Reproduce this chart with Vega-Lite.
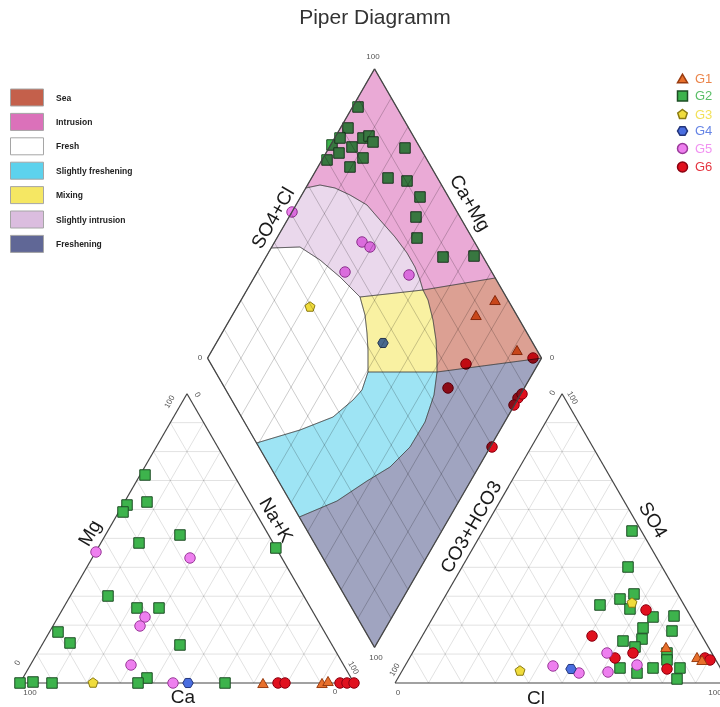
{
  "$schema": "https://vega.github.io/schema/vega-lite/v6.json",
  "width": 720,
  "height": 707,
  "padding": 0,
  "autosize": {"type": "none"},
  "background": "white",
  "config": {"view": {"stroke": null}, "font": "Liberation Sans"},
  "datasets": {
    "lines": [
      {"p":"t","k":"g","x":5,"y":8.660,"x2":95,"y2":8.660},
      {"p":"t","k":"g","x":10,"y":17.321,"x2":90,"y2":17.321},
      {"p":"t","k":"g","x":15,"y":25.981,"x2":85,"y2":25.981},
      {"p":"t","k":"g","x":20,"y":34.641,"x2":80,"y2":34.641},
      {"p":"t","k":"g","x":25,"y":43.301,"x2":75,"y2":43.301},
      {"p":"t","k":"g","x":30,"y":51.962,"x2":70,"y2":51.962},
      {"p":"t","k":"g","x":35,"y":60.622,"x2":65,"y2":60.622},
      {"p":"t","k":"g","x":40,"y":69.282,"x2":60,"y2":69.282},
      {"p":"t","k":"g","x":45,"y":77.942,"x2":55,"y2":77.942},
      {"p":"t","k":"g","x":10,"y":0,"x2":55,"y2":77.942},
      {"p":"t","k":"g","x":20,"y":0,"x2":60,"y2":69.282},
      {"p":"t","k":"g","x":30,"y":0,"x2":65,"y2":60.622},
      {"p":"t","k":"g","x":40,"y":0,"x2":70,"y2":51.962},
      {"p":"t","k":"g","x":50,"y":0,"x2":75,"y2":43.301},
      {"p":"t","k":"g","x":60,"y":0,"x2":80,"y2":34.641},
      {"p":"t","k":"g","x":70,"y":0,"x2":85,"y2":25.981},
      {"p":"t","k":"g","x":80,"y":0,"x2":90,"y2":17.321},
      {"p":"t","k":"g","x":90,"y":0,"x2":95,"y2":8.660},
      {"p":"t","k":"g","x":10,"y":0,"x2":5,"y2":8.660},
      {"p":"t","k":"g","x":20,"y":0,"x2":10,"y2":17.321},
      {"p":"t","k":"g","x":30,"y":0,"x2":15,"y2":25.981},
      {"p":"t","k":"g","x":40,"y":0,"x2":20,"y2":34.641},
      {"p":"t","k":"g","x":50,"y":0,"x2":25,"y2":43.301},
      {"p":"t","k":"g","x":60,"y":0,"x2":30,"y2":51.962},
      {"p":"t","k":"g","x":70,"y":0,"x2":35,"y2":60.622},
      {"p":"t","k":"g","x":80,"y":0,"x2":40,"y2":69.282},
      {"p":"t","k":"g","x":90,"y":0,"x2":45,"y2":77.942},
      {"p":"t","k":"g","x":117.3,"y":8.660,"x2":207.3,"y2":8.660},
      {"p":"t","k":"g","x":122.3,"y":17.321,"x2":202.3,"y2":17.321},
      {"p":"t","k":"g","x":127.3,"y":25.981,"x2":197.3,"y2":25.981},
      {"p":"t","k":"g","x":132.3,"y":34.641,"x2":192.3,"y2":34.641},
      {"p":"t","k":"g","x":137.3,"y":43.301,"x2":187.3,"y2":43.301},
      {"p":"t","k":"g","x":142.3,"y":51.962,"x2":182.3,"y2":51.962},
      {"p":"t","k":"g","x":147.3,"y":60.622,"x2":177.3,"y2":60.622},
      {"p":"t","k":"g","x":152.3,"y":69.282,"x2":172.3,"y2":69.282},
      {"p":"t","k":"g","x":157.3,"y":77.942,"x2":167.3,"y2":77.942},
      {"p":"t","k":"g","x":122.3,"y":0,"x2":167.3,"y2":77.942},
      {"p":"t","k":"g","x":132.3,"y":0,"x2":172.3,"y2":69.282},
      {"p":"t","k":"g","x":142.3,"y":0,"x2":177.3,"y2":60.622},
      {"p":"t","k":"g","x":152.3,"y":0,"x2":182.3,"y2":51.962},
      {"p":"t","k":"g","x":162.3,"y":0,"x2":187.3,"y2":43.301},
      {"p":"t","k":"g","x":172.3,"y":0,"x2":192.3,"y2":34.641},
      {"p":"t","k":"g","x":182.3,"y":0,"x2":197.3,"y2":25.981},
      {"p":"t","k":"g","x":192.3,"y":0,"x2":202.3,"y2":17.321},
      {"p":"t","k":"g","x":202.3,"y":0,"x2":207.3,"y2":8.660},
      {"p":"t","k":"g","x":122.3,"y":0,"x2":117.3,"y2":8.660},
      {"p":"t","k":"g","x":132.3,"y":0,"x2":122.3,"y2":17.321},
      {"p":"t","k":"g","x":142.3,"y":0,"x2":127.3,"y2":25.981},
      {"p":"t","k":"g","x":152.3,"y":0,"x2":132.3,"y2":34.641},
      {"p":"t","k":"g","x":162.3,"y":0,"x2":137.3,"y2":43.301},
      {"p":"t","k":"g","x":172.3,"y":0,"x2":142.3,"y2":51.962},
      {"p":"t","k":"g","x":182.3,"y":0,"x2":147.3,"y2":60.622},
      {"p":"t","k":"g","x":192.3,"y":0,"x2":152.3,"y2":69.282},
      {"p":"t","k":"g","x":202.3,"y":0,"x2":157.3,"y2":77.942},
      {"p":"d","k":"g","x":61.15,"y":88.595,"x2":111.15,"y2":175.198},
      {"p":"d","k":"g","x":66.15,"y":79.934,"x2":116.15,"y2":166.537},
      {"p":"d","k":"g","x":71.15,"y":71.274,"x2":121.15,"y2":157.877},
      {"p":"d","k":"g","x":76.15,"y":62.614,"x2":126.15,"y2":149.217},
      {"p":"d","k":"g","x":81.15,"y":53.953,"x2":131.15,"y2":140.556},
      {"p":"d","k":"g","x":86.15,"y":45.293,"x2":136.15,"y2":131.896},
      {"p":"d","k":"g","x":91.15,"y":36.633,"x2":141.15,"y2":123.236},
      {"p":"d","k":"g","x":96.15,"y":27.973,"x2":146.15,"y2":114.576},
      {"p":"d","k":"g","x":101.15,"y":19.312,"x2":151.15,"y2":105.915},
      {"p":"d","k":"g","x":61.15,"y":105.915,"x2":111.15,"y2":19.312},
      {"p":"d","k":"g","x":66.15,"y":114.576,"x2":116.15,"y2":27.973},
      {"p":"d","k":"g","x":71.15,"y":123.236,"x2":121.15,"y2":36.633},
      {"p":"d","k":"g","x":76.15,"y":131.896,"x2":126.15,"y2":45.293},
      {"p":"d","k":"g","x":81.15,"y":140.556,"x2":131.15,"y2":53.953},
      {"p":"d","k":"g","x":86.15,"y":149.217,"x2":136.15,"y2":62.614},
      {"p":"d","k":"g","x":91.15,"y":157.877,"x2":141.15,"y2":71.274},
      {"p":"d","k":"g","x":96.15,"y":166.537,"x2":146.15,"y2":79.934},
      {"p":"d","k":"g","x":101.15,"y":175.198,"x2":151.15,"y2":88.595},
      {"p":"t","k":"e","x":0,"y":0,"x2":100,"y2":0},
      {"p":"t","k":"e","x":0,"y":0,"x2":50,"y2":86.603},
      {"p":"t","k":"e","x":100,"y":0,"x2":50,"y2":86.603},
      {"p":"t","k":"e","x":112.3,"y":0,"x2":212.3,"y2":0},
      {"p":"t","k":"e","x":112.3,"y":0,"x2":162.3,"y2":86.603},
      {"p":"t","k":"e","x":212.3,"y":0,"x2":162.3,"y2":86.603},
      {"p":"d","k":"e","x":56.15,"y":97.255,"x2":106.15,"y2":183.858},
      {"p":"d","k":"e","x":106.15,"y":183.858,"x2":156.15,"y2":97.255},
      {"p":"d","k":"e","x":156.15,"y":97.255,"x2":106.15,"y2":10.652},
      {"p":"d","k":"e","x":106.15,"y":10.652,"x2":56.15,"y2":97.255}
    ],
    "zones": [
      {"zone":"Intrusion","i":0,"x":106.15,"y":183.858},
      {"zone":"Intrusion","i":1,"x":142.29,"y":121.26},
      {"zone":"Intrusion","i":2,"x":120.66,"y":117.66},
      {"zone":"Intrusion","i":3,"x":119.76,"y":120.66},
      {"zone":"Intrusion","i":4,"x":118.26,"y":124.55},
      {"zone":"Intrusion","i":5,"x":115.87,"y":128.74},
      {"zone":"Intrusion","i":6,"x":112.28,"y":133.53},
      {"zone":"Intrusion","i":7,"x":107.78,"y":138.62},
      {"zone":"Intrusion","i":8,"x":103.89,"y":143.11},
      {"zone":"Intrusion","i":9,"x":98.80,"y":146.11},
      {"zone":"Intrusion","i":10,"x":94.31,"y":148.20},
      {"zone":"Intrusion","i":11,"x":89.82,"y":149.10},
      {"zone":"Intrusion","i":12,"x":85.56,"y":148.20},
      {"zone":"Intrusion","i":13,"x":106.15,"y":183.858},
      {"zone":"Slightly intrusion","i":0,"x":85.56,"y":148.20},
      {"zone":"Slightly intrusion","i":1,"x":89.82,"y":149.10},
      {"zone":"Slightly intrusion","i":2,"x":94.31,"y":148.20},
      {"zone":"Slightly intrusion","i":3,"x":98.80,"y":146.11},
      {"zone":"Slightly intrusion","i":4,"x":103.89,"y":143.11},
      {"zone":"Slightly intrusion","i":5,"x":107.78,"y":138.62},
      {"zone":"Slightly intrusion","i":6,"x":112.28,"y":133.53},
      {"zone":"Slightly intrusion","i":7,"x":115.87,"y":128.74},
      {"zone":"Slightly intrusion","i":8,"x":118.26,"y":124.55},
      {"zone":"Slightly intrusion","i":9,"x":119.76,"y":120.66},
      {"zone":"Slightly intrusion","i":10,"x":120.66,"y":117.66},
      {"zone":"Slightly intrusion","i":11,"x":101.80,"y":115.57},
      {"zone":"Slightly intrusion","i":12,"x":95.81,"y":121.56},
      {"zone":"Slightly intrusion","i":13,"x":89.82,"y":126.65},
      {"zone":"Slightly intrusion","i":14,"x":83.83,"y":130.54},
      {"zone":"Slightly intrusion","i":15,"x":75.19,"y":130.24},
      {"zone":"Slightly intrusion","i":16,"x":85.56,"y":148.20},
      {"zone":"Fresh","i":0,"x":56.15,"y":97.255},
      {"zone":"Fresh","i":1,"x":75.19,"y":130.24},
      {"zone":"Fresh","i":2,"x":83.83,"y":130.54},
      {"zone":"Fresh","i":3,"x":89.82,"y":126.65},
      {"zone":"Fresh","i":4,"x":95.81,"y":121.56},
      {"zone":"Fresh","i":5,"x":101.80,"y":115.57},
      {"zone":"Fresh","i":6,"x":103.29,"y":110.18},
      {"zone":"Fresh","i":7,"x":103.89,"y":104.79},
      {"zone":"Fresh","i":8,"x":104.19,"y":99.70},
      {"zone":"Fresh","i":9,"x":104.19,"y":93.11},
      {"zone":"Fresh","i":10,"x":102.40,"y":87.72},
      {"zone":"Fresh","i":11,"x":99.70,"y":84.73},
      {"zone":"Fresh","i":12,"x":93.71,"y":79.64},
      {"zone":"Fresh","i":13,"x":83.83,"y":75.75},
      {"zone":"Fresh","i":14,"x":70.81,"y":71.86},
      {"zone":"Fresh","i":15,"x":56.15,"y":97.255},
      {"zone":"Mixing","i":0,"x":101.80,"y":115.57},
      {"zone":"Mixing","i":1,"x":120.66,"y":117.66},
      {"zone":"Mixing","i":2,"x":122.16,"y":114.67},
      {"zone":"Mixing","i":3,"x":123.65,"y":108.68},
      {"zone":"Mixing","i":4,"x":124.55,"y":102.69},
      {"zone":"Mixing","i":5,"x":124.85,"y":96.71},
      {"zone":"Mixing","i":6,"x":124.85,"y":93.11},
      {"zone":"Mixing","i":7,"x":104.19,"y":93.11},
      {"zone":"Mixing","i":8,"x":104.19,"y":99.70},
      {"zone":"Mixing","i":9,"x":103.89,"y":104.79},
      {"zone":"Mixing","i":10,"x":103.29,"y":110.18},
      {"zone":"Mixing","i":11,"x":101.80,"y":115.57},
      {"zone":"Sea","i":0,"x":120.66,"y":117.66},
      {"zone":"Sea","i":1,"x":142.29,"y":121.26},
      {"zone":"Sea","i":2,"x":156.15,"y":97.255},
      {"zone":"Sea","i":3,"x":124.85,"y":93.11},
      {"zone":"Sea","i":4,"x":124.85,"y":96.71},
      {"zone":"Sea","i":5,"x":124.55,"y":102.69},
      {"zone":"Sea","i":6,"x":123.65,"y":108.68},
      {"zone":"Sea","i":7,"x":122.16,"y":114.67},
      {"zone":"Sea","i":8,"x":120.66,"y":117.66},
      {"zone":"Slightly freshening","i":0,"x":70.81,"y":71.86},
      {"zone":"Slightly freshening","i":1,"x":83.83,"y":75.75},
      {"zone":"Slightly freshening","i":2,"x":93.71,"y":79.64},
      {"zone":"Slightly freshening","i":3,"x":99.70,"y":84.73},
      {"zone":"Slightly freshening","i":4,"x":102.40,"y":87.72},
      {"zone":"Slightly freshening","i":5,"x":104.19,"y":93.11},
      {"zone":"Slightly freshening","i":6,"x":124.85,"y":93.11},
      {"zone":"Slightly freshening","i":7,"x":123.95,"y":86.23},
      {"zone":"Slightly freshening","i":8,"x":121.26,"y":78.14},
      {"zone":"Slightly freshening","i":9,"x":116.77,"y":70.66},
      {"zone":"Slightly freshening","i":10,"x":110.78,"y":64.67},
      {"zone":"Slightly freshening","i":11,"x":103.89,"y":60.48},
      {"zone":"Slightly freshening","i":12,"x":94.91,"y":54.49},
      {"zone":"Slightly freshening","i":13,"x":83.61,"y":49.70},
      {"zone":"Slightly freshening","i":14,"x":70.81,"y":71.86},
      {"zone":"Freshening","i":0,"x":83.61,"y":49.70},
      {"zone":"Freshening","i":1,"x":94.91,"y":54.49},
      {"zone":"Freshening","i":2,"x":103.89,"y":60.48},
      {"zone":"Freshening","i":3,"x":110.78,"y":64.67},
      {"zone":"Freshening","i":4,"x":116.77,"y":70.66},
      {"zone":"Freshening","i":5,"x":121.26,"y":78.14},
      {"zone":"Freshening","i":6,"x":123.95,"y":86.23},
      {"zone":"Freshening","i":7,"x":124.85,"y":93.11},
      {"zone":"Freshening","i":8,"x":156.15,"y":97.255},
      {"zone":"Freshening","i":9,"x":106.15,"y":10.652},
      {"zone":"Freshening","i":10,"x":83.61,"y":49.70}
    ],
    "samples": [
      {"g":"G2","x":37.43,"y":62.28},{"g":"G2","x":38.02,"y":54.19},{"g":"G2","x":32.04,"y":53.29},
      {"g":"G2","x":30.84,"y":51.20},{"g":"G2","x":47.90,"y":44.31},{"g":"G2","x":35.63,"y":41.92},
      {"g":"G2","x":76.6,"y":40.42},{"g":"G2","x":26.35,"y":26.05},{"g":"G2","x":35.03,"y":22.46},
      {"g":"G2","x":41.62,"y":22.46},{"g":"G2","x":11.38,"y":15.27},{"g":"G2","x":14.97,"y":11.98},
      {"g":"G2","x":47.90,"y":11.38},{"g":"G2","x":38.02,"y":1.50},{"g":"G2","x":0,"y":0},
      {"g":"G2","x":3.89,"y":0.30},{"g":"G2","x":9.58,"y":0},{"g":"G2","x":35.33,"y":0},{"g":"G2","x":61.38,"y":0},
      {"g":"G5","x":22.75,"y":39.22},{"g":"G5","x":50.90,"y":37.43},{"g":"G5","x":37.43,"y":19.76},
      {"g":"G5","x":35.93,"y":17.07},{"g":"G5","x":33.23,"y":5.39},{"g":"G5","x":45.81,"y":0},
      {"g":"G4","x":50.30,"y":0},
      {"g":"G3","x":21.86,"y":0},
      {"g":"G1","x":72.75,"y":0},{"g":"G1","x":90.42,"y":0},{"g":"G1","x":92.22,"y":0.6},
      {"g":"G6","x":77.25,"y":0},{"g":"G6","x":79.34,"y":0},{"g":"G6","x":95.81,"y":0},{"g":"G6","x":97.90,"y":0},{"g":"G6","x":100,"y":0},
      {"g":"G2","x":183.23,"y":45.51},{"g":"G2","x":182.04,"y":34.73},{"g":"G2","x":183.83,"y":26.65},
      {"g":"G2","x":179.64,"y":25.15},{"g":"G2","x":173.65,"y":23.35},{"g":"G2","x":182.63,"y":22.16},
      {"g":"G2","x":189.52,"y":19.76},{"g":"G2","x":195.81,"y":20.06},{"g":"G2","x":186.53,"y":16.47},
      {"g":"G2","x":195.21,"y":15.57},{"g":"G2","x":180.54,"y":12.57},{"g":"G2","x":186.23,"y":13.17},
      {"g":"G2","x":184.13,"y":10.78},{"g":"G2","x":193.71,"y":8.98},{"g":"G2","x":193.71,"y":6.89},
      {"g":"G2","x":179.64,"y":4.49},{"g":"G2","x":184.73,"y":2.99},{"g":"G2","x":189.52,"y":4.49},
      {"g":"G2","x":197.60,"y":4.49},{"g":"G2","x":196.71,"y":1.20},
      {"g":"G3","x":183.23,"y":23.95},{"g":"G3","x":149.70,"y":3.59},
      {"g":"G6","x":187.43,"y":21.86},{"g":"G6","x":171.26,"y":14.07},{"g":"G6","x":183.53,"y":8.98},
      {"g":"G6","x":178.14,"y":7.49},{"g":"G6","x":193.71,"y":4.19},{"g":"G6","x":205.09,"y":7.49},{"g":"G6","x":206.59,"y":6.89},
      {"g":"G5","x":175.75,"y":8.98},{"g":"G5","x":159.58,"y":5.09},{"g":"G5","x":167.37,"y":2.99},
      {"g":"G5","x":176.05,"y":3.29},{"g":"G5","x":184.73,"y":5.39},
      {"g":"G4","x":164.97,"y":4.19},
      {"g":"G1","x":193.41,"y":10.78},{"g":"G1","x":202.69,"y":7.78},{"g":"G1","x":204.19,"y":6.89},
      {"g":"G2","x":101.20,"y":172.46},{"g":"G2","x":98.20,"y":166.17},{"g":"G2","x":93.41,"y":161.08},
      {"g":"G2","x":95.81,"y":163.17},{"g":"G2","x":95.51,"y":158.68},{"g":"G2","x":99.40,"y":160.48},
      {"g":"G2","x":102.69,"y":163.17},{"g":"G2","x":104.49,"y":163.77},{"g":"G2","x":105.69,"y":161.98},
      {"g":"G2","x":91.92,"y":156.59},{"g":"G2","x":102.69,"y":157.19},{"g":"G2","x":98.80,"y":154.49},
      {"g":"G2","x":115.27,"y":160.18},{"g":"G2","x":110.18,"y":151.20},{"g":"G2","x":115.87,"y":150.30},
      {"g":"G2","x":119.76,"y":145.51},{"g":"G2","x":118.56,"y":139.52},{"g":"G2","x":118.86,"y":133.23},
      {"g":"G2","x":126.65,"y":127.54},{"g":"G2","x":135.93,"y":127.84},
      {"g":"G5","x":81.44,"y":141.02},{"g":"G5","x":102.40,"y":132.04},{"g":"G5","x":104.79,"y":130.54},
      {"g":"G5","x":97.31,"y":123.05},{"g":"G5","x":116.47,"y":122.16},
      {"g":"G3","x":86.83,"y":112.57},
      {"g":"G4","x":108.68,"y":101.80},
      {"g":"G1","x":142.22,"y":114.67},{"g":"G1","x":136.53,"y":110.18},{"g":"G1","x":148.80,"y":99.70},
      {"g":"G6","x":133.53,"y":95.51},{"g":"G6","x":128.14,"y":88.32},{"g":"G6","x":149.10,"y":85.33},
      {"g":"G6","x":150.30,"y":86.53},{"g":"G6","x":147.90,"y":83.23},{"g":"G6","x":141.32,"y":70.66},
      {"g":"G6","x":153.59,"y":97.31}
    ],
    "texts": [
      {"kind":"title","t":"Piper Diagramm","x":106.29,"y":199.10,"side":"flat"},
      {"kind":"name","t":"Mg","x":20.96,"y":44.91,"side":"up"},
      {"kind":"name","t":"Na+K","x":76.65,"y":48.80,"side":"down"},
      {"kind":"name","t":"Ca","x":48.80,"y":-4.19,"side":"flat"},
      {"kind":"name","t":"CO3+HCO3","x":135.03,"y":46.71,"side":"up"},
      {"kind":"name","t":"SO4","x":189.52,"y":48.80,"side":"down"},
      {"kind":"name","t":"Cl","x":154.49,"y":-4.49,"side":"flat"},
      {"kind":"name","t":"SO4+Cl","x":75.75,"y":139.22,"side":"up"},
      {"kind":"name","t":"Ca+Mg","x":134.73,"y":143.71,"side":"down"},
      {"kind":"tick","t":"0","x":-0.60,"y":5.99,"side":"up"},
      {"kind":"tick","t":"100","x":44.91,"y":84.13,"side":"up"},
      {"kind":"tick","t":"0","x":52.99,"y":86.23,"side":"down"},
      {"kind":"tick","t":"100","x":99.70,"y":4.49,"side":"down"},
      {"kind":"tick","t":"100","x":2.99,"y":-2.99,"side":"flat"},
      {"kind":"tick","t":"0","x":94.31,"y":-2.69,"side":"flat"},
      {"kind":"tick","t":"100","x":112.28,"y":3.89,"side":"up"},
      {"kind":"tick","t":"0","x":113.17,"y":-2.99,"side":"flat"},
      {"kind":"tick","t":"0","x":159.58,"y":86.83,"side":"up"},
      {"kind":"tick","t":"100","x":165.27,"y":85.33,"side":"down"},
      {"kind":"tick","t":"100","x":208.08,"y":-2.99,"side":"flat"},
      {"kind":"tick","t":"0","x":211.08,"y":4.49,"side":"down"},
      {"kind":"tick","t":"100","x":105.69,"y":187.43,"side":"flat"},
      {"kind":"tick","t":"0","x":53.89,"y":97.31,"side":"flat"},
      {"kind":"tick","t":"0","x":159.28,"y":97.31,"side":"flat"},
      {"kind":"tick","t":"100","x":106.59,"y":7.49,"side":"flat"}
    ]
  },
  "encoding": {
    "x": {"field": "x", "type": "quantitative", "axis": null, "scale": {"domain": [-5.988, 209.58], "nice": false, "zero": false}},
    "y": {"field": "y", "type": "quantitative", "axis": null, "scale": {"domain": [-7.186, 204.49], "nice": false, "zero": false}}
  },
  "layer": [
    {
      "data": {"name": "lines"},
      "transform": [{"filter": "datum.p == 't' && datum.k == 'g'"}],
      "mark": {"type": "rule", "stroke": "#000000", "strokeOpacity": 0.17, "strokeWidth": 0.7},
      "encoding": {"x2": {"field": "x2"}, "y2": {"field": "y2"}}
    },
    {
      "data": {"name": "lines"},
      "transform": [{"filter": "datum.p == 't' && datum.k == 'e'"}],
      "mark": {"type": "rule", "stroke": "#444444", "strokeWidth": 1.2},
      "encoding": {"x2": {"field": "x2"}, "y2": {"field": "y2"}}
    },
    {
      "data": {"name": "samples"},
      "mark": {"type": "point", "filled": true, "size": 110, "strokeWidth": 1, "opacity": 1},
      "encoding": {
        "color": {
          "field": "g", "type": "nominal",
          "scale": {"domain": ["G1","G2","G3","G4","G5","G6"], "range": ["#e8702c","#3db34c","#f0dc3c","#4a6ee0","#ee7fef","#e0101e"]},
          "legend": {"title": null, "orient": "none", "legendX": 676, "legendY": 72, "labelFontSize": 13, "labelOffset": 6, "rowPadding": 1.5, "labelOpacity": 0.85, "labelColor": {"expr": "scale('color', datum.value)"}}
        },
        "shape": {
          "field": "g", "type": "nominal",
          "scale": {"domain": ["G1","G2","G3","G4","G5","G6"], "range": ["triangle-up","square","M0,-1L0.951,-0.309L0.588,0.809L-0.588,0.809L-0.951,-0.309Z","M-0.5,-0.866L0.5,-0.866L1,0L0.5,0.866L-0.5,0.866L-1,0Z","circle","circle"]},
          "legend": {"title": null, "orient": "none", "legendX": 676, "legendY": 72, "labelFontSize": 13, "labelOffset": 6, "rowPadding": 1.5, "labelOpacity": 0.85, "labelColor": {"expr": "scale('color', datum.value)"}}
        },
        "stroke": {
          "field": "g", "type": "nominal",
          "scale": {"domain": ["G1","G2","G3","G4","G5","G6"], "range": ["#9a3c10","#1d4d24","#8a7a10","#23357a","#9a3a9a","#8c0010"]},
          "legend": {"title": null, "orient": "none", "legendX": 676, "legendY": 72, "labelFontSize": 13, "labelOffset": 6, "rowPadding": 1.5, "labelOpacity": 0.85, "labelColor": {"expr": "scale('color', datum.value)"}}
        }
      }
    },
    {
      "data": {"name": "zones"},
      "mark": {"type": "line", "fillOpacity": 0.45, "blend": "multiply", "stroke": "#6e6e6e", "strokeWidth": 0.8, "strokeOpacity": 0.8},
      "encoding": {
        "order": {"field": "i", "type": "quantitative"},
        "fill": {
          "field": "zone", "type": "nominal",
          "scale": {
            "domain": ["Sea","Intrusion","Fresh","Slightly freshening","Mixing","Slightly intrusion","Freshening"],
            "range": ["#b12c0f","#d042a4","#ffffff","#27c3e7","#f2e030","#d0a8d5","#2c3573"]
          },
          "legend": {
            "title": null, "orient": "none", "legendX": 18, "legendY": 88.5,
            "symbolType": "M-1.94,-1H1.94V1H-1.94Z", "symbolSize": 289,
            "symbolStrokeColor": "#888888", "symbolStrokeWidth": 1, "symbolOpacity": 0.75,
            "labelFontSize": 8.5, "labelFontWeight": "bold", "labelColor": "#222222", "labelOffset": 20, "rowPadding": 2.4
          }
        }
      }
    },
    {
      "data": {"name": "lines"},
      "transform": [{"filter": "datum.p == 'd' && datum.k == 'g'"}],
      "mark": {"type": "rule", "stroke": "#000000", "strokeOpacity": 0.25, "strokeWidth": 0.8},
      "encoding": {"x2": {"field": "x2"}, "y2": {"field": "y2"}}
    },
    {
      "data": {"name": "lines"},
      "transform": [{"filter": "datum.p == 'd' && datum.k == 'e'"}],
      "mark": {"type": "rule", "stroke": "#444444", "strokeWidth": 1.2},
      "encoding": {"x2": {"field": "x2"}, "y2": {"field": "y2"}}
    },
    {
      "data": {"name": "texts"},
      "mark": {"type": "text", "align": "center", "baseline": "middle", "font": "Liberation Sans"},
      "encoding": {
        "text": {"field": "t"},
        "size": {"condition": [{"test": "datum.kind == 'title'", "value": 21}, {"test": "datum.kind == 'name'", "value": 19}], "value": 8},
        "color": {"condition": [{"test": "datum.kind == 'title'", "value": "#333333"}, {"test": "datum.kind == 'name'", "value": "#1a1a1a"}], "value": "#555555"},
        "angle": {"condition": [{"test": "datum.side == 'up'", "value": 300}, {"test": "datum.side == 'down'", "value": 60}], "value": 0}
      }
    }
  ]
}
